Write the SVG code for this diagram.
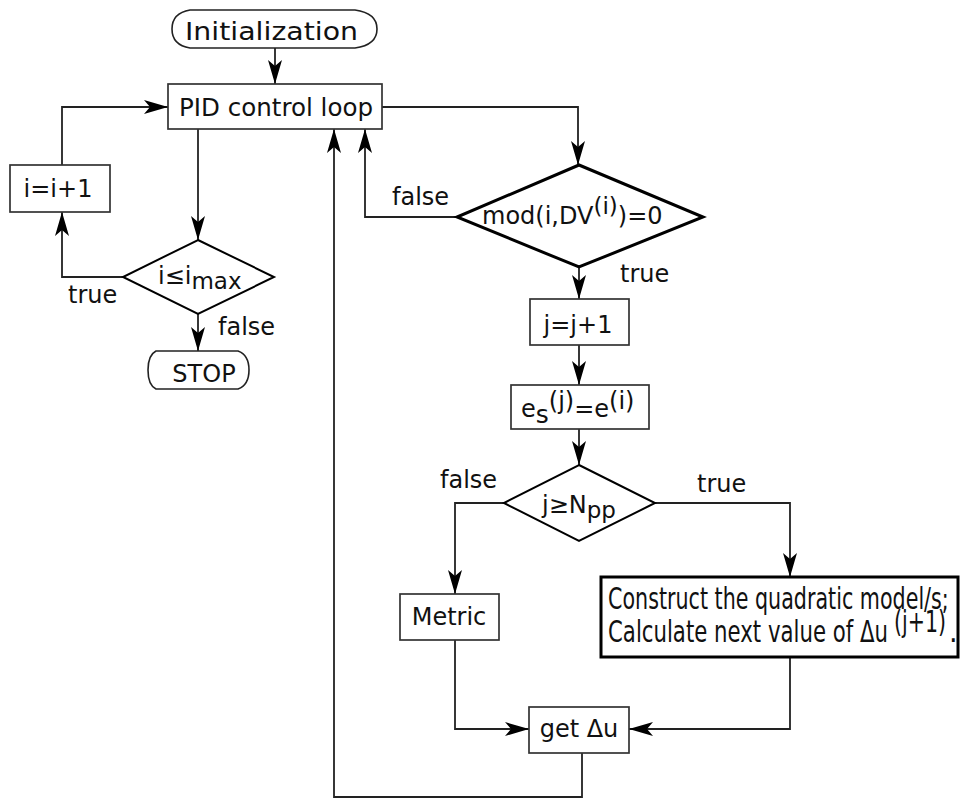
<svg xmlns="http://www.w3.org/2000/svg" width="960" height="799" viewBox="0 0 960 799">
<style>
.box{fill:#fff;stroke:#333;stroke-width:1.7}
.dia{fill:#fff;stroke:#000;stroke-width:2}
.thick{fill:#fff;stroke:#000;stroke-width:3}
.term{fill:#fff;stroke:#222;stroke-width:1.6}
.conn path{fill:none;stroke:#222;stroke-width:1.8}
.arr{marker-end:url(#ah)}
text{font-family:"DejaVu Sans",Verdana,sans-serif;font-size:24px;fill:#111}
.mid{text-anchor:middle}
.cond{font-family:"DejaVu Sans Condensed","DejaVu Sans",sans-serif;font-stretch:condensed;font-size:30px}
</style>
<defs>
<marker id="ah" viewBox="-26 -9 28 18" refX="0" refY="0" markerWidth="28" markerHeight="18" markerUnits="userSpaceOnUse" orient="auto">
<path d="M0,0 L-24,-7 L-18,0 L-24,7 Z" fill="#000"/>
</marker>
</defs>
<g class="conn">
<path class="arr" d="M275,48 V84"/>
<path class="arr" d="M198,129 V240"/>
<path class="arr" d="M123,277 H62 V212"/>
<path class="arr" d="M62,165 V107 H168"/>
<path class="arr" d="M198,314 V351"/>
<path class="arr" d="M382,107 H578 V165"/>
<path class="arr" d="M457,217 H365 V129"/>
<path class="arr" d="M579,267 V299"/>
<path class="arr" d="M579,345 V385"/>
<path class="arr" d="M579,429 V465"/>
<path class="arr" d="M504,503 H455 V594"/>
<path class="arr" d="M655,503 H790 V577"/>
<path class="arr" d="M455,640 V729 H529"/>
<path class="arr" d="M790,657 V729 H629"/>
<path class="arr" d="M582,753 V797 H334 V129"/>
</g>
<g id="init">
<path class="term" d="M190,10 H355 Q377,13 377,29 Q377,45 355,48 H190 Q172,45 172,29 Q172,13 190,10 Z"/>
<text x="185" y="40" font-size="29" textLength="173" lengthAdjust="spacingAndGlyphs">Initialization</text>
</g>
<g id="pid">
<rect class="box" x="168" y="84" width="214" height="45"/>
<text x="179" y="116" font-size="26" textLength="194" lengthAdjust="spacingAndGlyphs">PID control loop</text>
</g>
<g id="inc-i">
<rect class="box" x="10" y="165" width="100" height="47"/>
<text x="58" y="197" class="mid" font-size="24">i=i+1</text>
</g>
<g id="cond-imax">
<polygon class="dia" points="198,240 274,277 198,314 123,277"/>
<text x="158" y="284">i≤i<tspan dy="5" font-size="23">max</tspan></text>
</g>
<g id="stop">
<path class="term" d="M156,351 H238 Q249,355 249,370 Q249,385 238,389 H156 Q148,385 148,370 Q148,355 156,351 Z"/>
<text x="204" y="382" class="mid">STOP</text>
</g>
<g id="cond-mod">
<polygon class="thick" points="579,165 703,217 579,267 457,217"/>
<text x="482" y="224" font-size="26">mod(i,DV<tspan dy="-10" font-size="23">(i)</tspan><tspan dy="10">)=0</tspan></text>
</g>
<g id="inc-j">
<rect class="box" x="530" y="299" width="99" height="46"/>
<text x="578" y="333" class="mid" font-size="25">j=j+1</text>
</g>
<g id="es">
<rect class="box" x="511" y="385" width="138" height="44"/>
<text x="521" y="417" font-size="27">e<tspan dy="6" font-size="25">s</tspan><tspan dy="-14" font-size="24">(j)</tspan><tspan dy="8">=e</tspan><tspan dy="-8" font-size="24">(i)</tspan></text>
</g>
<g id="cond-npp">
<polygon class="dia" points="579,465 655,503 579,541 504,503"/>
<text x="542" y="513">j≥N<tspan dy="5" font-size="23">pp</tspan></text>
</g>
<g id="metric">
<rect class="box" x="400" y="594" width="99" height="46"/>
<text x="449" y="625" class="mid">Metric</text>
</g>
<g id="construct">
<rect class="thick" x="601" y="577" width="357" height="80"/>
<text transform="translate(608,609) scale(0.8,1)" class="cond" textLength="426" lengthAdjust="spacingAndGlyphs">Construct the quadratic model/s;</text>
<text transform="translate(608,642) scale(0.8,1)" class="cond" textLength="350" lengthAdjust="spacingAndGlyphs">Calculate next value of  Δu</text>
<text transform="translate(894,632) scale(0.8,1)" class="cond" font-size="23" textLength="65" lengthAdjust="spacingAndGlyphs">(j+1)</text>
<text x="949" y="642" class="cond">.</text>
</g>
<g id="getdu">
<rect class="box" x="529" y="707" width="100" height="46"/>
<text x="579" y="737" class="mid">get Δu</text>
</g>
<g id="labels">
<text x="68" y="303">true</text>
<text x="218" y="335">false</text>
<text x="392" y="205">false</text>
<text x="620" y="282">true</text>
<text x="440" y="488">false</text>
<text x="697" y="492">true</text>
</g>
</svg>
